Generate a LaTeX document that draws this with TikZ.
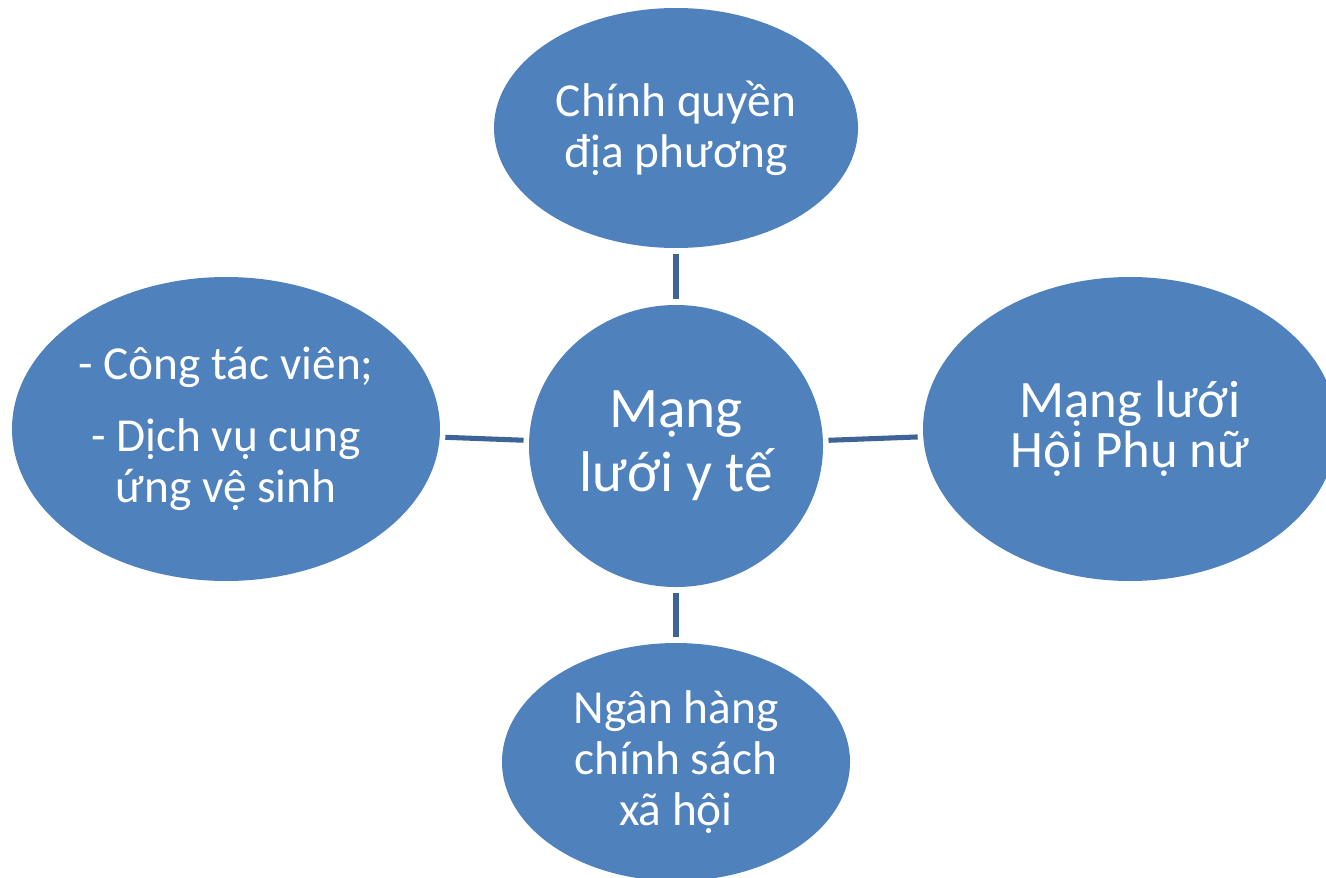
\documentclass[tikz,border=0pt]{standalone}
\usepackage{fontspec}
\setmainfont{Carlito}
\usetikzlibrary{shapes.geometric}
\definecolor{bubble}{HTML}{4F81BD}
\definecolor{link}{HTML}{3E6497}

\begin{document}
\begin{tikzpicture}[x=.75pt, y=-.75pt,
    bubble/.style={ellipse, fill=bubble, text=white, align=center, inner sep=0pt,
                   font=\fontsize{35.5}{38.5}\selectfont},
    big/.style={font=\fontsize{43}{48}\selectfont},
    link/.style={draw=link, line width=3.8pt, shorten <=4pt, shorten >=4pt}]
    \useasboundingbox (0, 0) rectangle (1326, 877);
    \fill [white] (0, 0) rectangle (1326, 877);

    \node [bubble, big, minimum width=220.5pt, minimum height=211.5pt] (centre) at (676, 446) {Mạng\\lưới y tế};
    \node [bubble, minimum width=273pt, minimum height=180pt] (govt) at (676, 128) {Chính quyền\\địa phương};
    \node [bubble, minimum width=261pt, minimum height=178.5pt] (bank) at (676, 762) {Ngân hàng\\chính sách\\xã hội};
    \node [bubble, minimum width=321pt, minimum height=228pt] (staff) at (226, 429) {- Công tác viên;\\[15pt]- Dịch vụ cung\\ứng vệ sinh};
    \node [bubble, minimum width=310.5pt, minimum height=228pt, font=\fontsize{39.5}{37.5}\selectfont] (women) at (1130, 429) {Mạng lưới\\Hội Phụ nữ};

    \draw [link] (govt) -- (centre);
    \draw [link] (staff) -- (centre);
    \draw [link] (centre) -- (women);
    \draw [link] (centre) -- (bank);

\end{tikzpicture}
\end{document}
